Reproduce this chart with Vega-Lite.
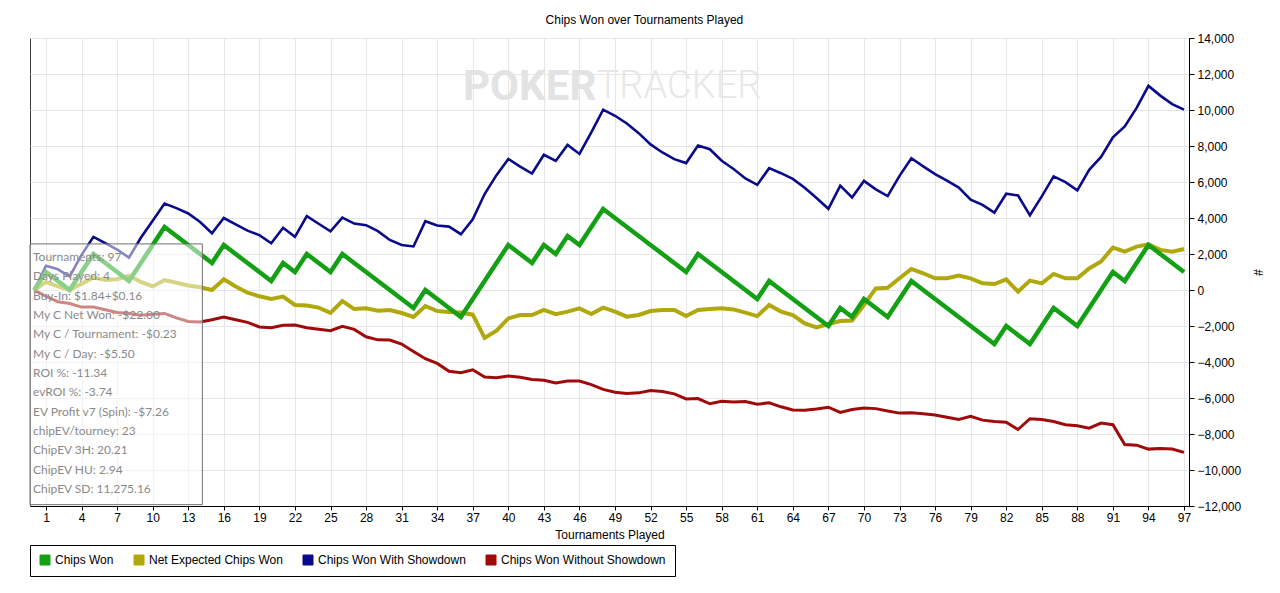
{
"$schema": "https://vega.github.io/schema/vega-lite/v6.json",
"width": 1159, "height": 468,
"autosize": {"type": "none"},
"padding": {"left": 30, "top": 38, "right": 91, "bottom": 87},
"background": "white",
"config": {
  "font": "Liberation Sans",
  "view": {"stroke": "#3c3c3c", "strokeWidth": 1},
  "axis": {"labelFontSize": 12, "labelColor": "#000", "labelFont": "Liberation Sans", "tickColor": "#000", "domainColor": "#000", "gridColor": "#e6e6e6", "titleFontSize": 12, "titleFontWeight": "normal", "titleColor": "#000", "titleFont": "Liberation Sans", "labelOverlap": false, "labelFlush": false},
  "axisY": {"tickCount": 14}
},
"title": {"text": "Chips Won over Tournaments Played", "fontSize": 12, "fontWeight": "normal", "font": "Liberation Sans", "color": "#000", "anchor": "middle", "frame": "bounds", "offset": 5},
"datasets": {
"chips": [
{"t":0,"cw":0,"nec":0,"sd":0,"nsd":0},
{"t":1,"cw":1000,"nec":450,"sd":1350,"nsd":-350},
{"t":2,"cw":500,"nec":200,"sd":1150,"nsd":-650},
{"t":3,"cw":0,"nec":0,"sd":750,"nsd":-750},
{"t":4,"cw":1000,"nec":350,"sd":1950,"nsd":-950},
{"t":5,"cw":2000,"nec":700,"sd":2950,"nsd":-950},
{"t":6,"cw":1500,"nec":550,"sd":2600,"nsd":-1100},
{"t":7,"cw":1000,"nec":600,"sd":2250,"nsd":-1250},
{"t":8,"cw":500,"nec":800,"sd":1800,"nsd":-1300},
{"t":9,"cw":1500,"nec":450,"sd":2900,"nsd":-1400},
{"t":10,"cw":2500,"nec":200,"sd":3850,"nsd":-1350},
{"t":11,"cw":3500,"nec":550,"sd":4800,"nsd":-1300},
{"t":12,"cw":3000,"nec":400,"sd":4550,"nsd":-1550},
{"t":13,"cw":2500,"nec":250,"sd":4250,"nsd":-1750},
{"t":14,"cw":2000,"nec":150,"sd":3780,"nsd":-1780},
{"t":15,"cw":1500,"nec":0,"sd":3150,"nsd":-1650},
{"t":16,"cw":2500,"nec":600,"sd":4000,"nsd":-1500},
{"t":17,"cw":2000,"nec":200,"sd":3650,"nsd":-1650},
{"t":18,"cw":1500,"nec":-150,"sd":3300,"nsd":-1800},
{"t":19,"cw":1000,"nec":-350,"sd":3050,"nsd":-2050},
{"t":20,"cw":500,"nec":-500,"sd":2600,"nsd":-2100},
{"t":21,"cw":1500,"nec":-370,"sd":3460,"nsd":-1960},
{"t":22,"cw":1000,"nec":-830,"sd":2950,"nsd":-1950},
{"t":23,"cw":2000,"nec":-860,"sd":4100,"nsd":-2100},
{"t":24,"cw":1500,"nec":-980,"sd":3680,"nsd":-2180},
{"t":25,"cw":1000,"nec":-1270,"sd":3260,"nsd":-2260},
{"t":26,"cw":2000,"nec":-610,"sd":4020,"nsd":-2020},
{"t":27,"cw":1500,"nec":-1060,"sd":3690,"nsd":-2190},
{"t":28,"cw":1000,"nec":-1020,"sd":3600,"nsd":-2600},
{"t":29,"cw":500,"nec":-1150,"sd":3270,"nsd":-2770},
{"t":30,"cw":0,"nec":-1110,"sd":2780,"nsd":-2780},
{"t":31,"cw":-500,"nec":-1280,"sd":2500,"nsd":-3000},
{"t":32,"cw":-1000,"nec":-1500,"sd":2420,"nsd":-3420},
{"t":33,"cw":0,"nec":-890,"sd":3820,"nsd":-3820},
{"t":34,"cw":-500,"nec":-1170,"sd":3580,"nsd":-4080},
{"t":35,"cw":-1000,"nec":-1220,"sd":3520,"nsd":-4520},
{"t":36,"cw":-1500,"nec":-1250,"sd":3100,"nsd":-4600},
{"t":37,"cw":-500,"nec":-1370,"sd":3930,"nsd":-4430},
{"t":38,"cw":500,"nec":-2660,"sd":5330,"nsd":-4830},
{"t":39,"cw":1500,"nec":-2260,"sd":6380,"nsd":-4880},
{"t":40,"cw":2500,"nec":-1580,"sd":7280,"nsd":-4780},
{"t":41,"cw":2000,"nec":-1390,"sd":6850,"nsd":-4850},
{"t":42,"cw":1500,"nec":-1390,"sd":6470,"nsd":-4970},
{"t":43,"cw":2500,"nec":-1110,"sd":7510,"nsd":-5010},
{"t":44,"cw":2000,"nec":-1340,"sd":7170,"nsd":-5170},
{"t":45,"cw":3000,"nec":-1200,"sd":8060,"nsd":-5060},
{"t":46,"cw":2500,"nec":-1020,"sd":7560,"nsd":-5060},
{"t":47,"cw":3500,"nec":-1340,"sd":8760,"nsd":-5260},
{"t":48,"cw":4500,"nec":-980,"sd":10020,"nsd":-5520},
{"t":49,"cw":4000,"nec":-1200,"sd":9680,"nsd":-5680},
{"t":50,"cw":3500,"nec":-1480,"sd":9250,"nsd":-5750},
{"t":51,"cw":3000,"nec":-1390,"sd":8715,"nsd":-5715},
{"t":52,"cw":2500,"nec":-1170,"sd":8090,"nsd":-5590},
{"t":53,"cw":2000,"nec":-1110,"sd":7640,"nsd":-5640},
{"t":54,"cw":1500,"nec":-1110,"sd":7270,"nsd":-5770},
{"t":55,"cw":1000,"nec":-1450,"sd":7050,"nsd":-6050},
{"t":56,"cw":2000,"nec":-1110,"sd":8030,"nsd":-6030},
{"t":57,"cw":1500,"nec":-1060,"sd":7820,"nsd":-6320},
{"t":58,"cw":1000,"nec":-1020,"sd":7180,"nsd":-6180},
{"t":59,"cw":500,"nec":-1080,"sd":6720,"nsd":-6220},
{"t":60,"cw":0,"nec":-1260,"sd":6200,"nsd":-6200},
{"t":61,"cw":-500,"nec":-1450,"sd":5840,"nsd":-6340},
{"t":62,"cw":500,"nec":-830,"sd":6770,"nsd":-6270},
{"t":63,"cw":0,"nec":-1200,"sd":6490,"nsd":-6490},
{"t":64,"cw":-500,"nec":-1390,"sd":6170,"nsd":-6670},
{"t":65,"cw":-1000,"nec":-1855,"sd":5680,"nsd":-6680},
{"t":66,"cw":-1500,"nec":-2080,"sd":5110,"nsd":-6610},
{"t":67,"cw":-2000,"nec":-1890,"sd":4510,"nsd":-6510},
{"t":68,"cw":-1000,"nec":-1725,"sd":5800,"nsd":-6800},
{"t":69,"cw":-1500,"nec":-1700,"sd":5140,"nsd":-6640},
{"t":70,"cw":-500,"nec":-830,"sd":6060,"nsd":-6560},
{"t":71,"cw":-1000,"nec":90,"sd":5590,"nsd":-6590},
{"t":72,"cw":-1500,"nec":120,"sd":5220,"nsd":-6720},
{"t":73,"cw":-500,"nec":650,"sd":6340,"nsd":-6840},
{"t":74,"cw":500,"nec":1170,"sd":7320,"nsd":-6820},
{"t":75,"cw":0,"nec":930,"sd":6870,"nsd":-6870},
{"t":76,"cw":-500,"nec":650,"sd":6440,"nsd":-6940},
{"t":77,"cw":-1000,"nec":650,"sd":6070,"nsd":-7070},
{"t":78,"cw":-1500,"nec":800,"sd":5690,"nsd":-7190},
{"t":79,"cw":-2000,"nec":650,"sd":5020,"nsd":-7020},
{"t":80,"cw":-2500,"nec":370,"sd":4730,"nsd":-7230},
{"t":81,"cw":-3000,"nec":330,"sd":4300,"nsd":-7300},
{"t":82,"cw":-2000,"nec":590,"sd":5350,"nsd":-7350},
{"t":83,"cw":-2500,"nec":-90,"sd":5250,"nsd":-7750},
{"t":84,"cw":-3000,"nec":520,"sd":4150,"nsd":-7150},
{"t":85,"cw":-2000,"nec":370,"sd":5200,"nsd":-7200},
{"t":86,"cw":-1000,"nec":890,"sd":6310,"nsd":-7310},
{"t":87,"cw":-1500,"nec":650,"sd":5990,"nsd":-7490},
{"t":88,"cw":-2000,"nec":650,"sd":5540,"nsd":-7540},
{"t":89,"cw":-1000,"nec":1200,"sd":6680,"nsd":-7680},
{"t":90,"cw":0,"nec":1580,"sd":7390,"nsd":-7390},
{"t":91,"cw":1000,"nec":2360,"sd":8480,"nsd":-7480},
{"t":92,"cw":500,"nec":2130,"sd":9090,"nsd":-8590},
{"t":93,"cw":1500,"nec":2410,"sd":10120,"nsd":-8620},
{"t":94,"cw":2500,"nec":2540,"sd":11340,"nsd":-8840},
{"t":95,"cw":2000,"nec":2230,"sd":10800,"nsd":-8800},
{"t":96,"cw":1500,"nec":2130,"sd":10330,"nsd":-8830},
{"t":97,"cw":1000,"nec":2280,"sd":10020,"nsd":-9020}
],
"stats": [
{"idx":0,"label":"Tournaments: 97"},
{"idx":1,"label":"Days Played: 4"},
{"idx":2,"label":"Buy-In: $1.84+$0.16"},
{"idx":3,"label":"My C Net Won: -$22.00"},
{"idx":4,"label":"My C / Tournament: -$0.23"},
{"idx":5,"label":"My C / Day: -$5.50"},
{"idx":6,"label":"ROI %: -11.34"},
{"idx":7,"label":"evROI %: -3.74"},
{"idx":8,"label":"EV Profit v7 (Spin): -$7.26"},
{"idx":9,"label":"chipEV/tourney: 23"},
{"idx":10,"label":"ChipEV 3H: 20.21"},
{"idx":11,"label":"ChipEV HU: 2.94"},
{"idx":12,"label":"ChipEV SD: 11,275.16"}
]
},
"layer": [
{
  "data": {"name": "chips"},
  "encoding": {
    "x": {"field": "t", "type": "quantitative", "scale": {"domain": [-0.35, 97.42], "nice": false, "zero": false},
      "axis": {"values": [1,4,7,10,13,16,19,22,25,28,31,34,37,40,43,46,49,52,55,58,61,64,67,70,73,76,79,82,85,88,91,94,97], "title": "Tournaments Played", "tickSize": 4, "labelPadding": 2, "titlePadding": 6, "grid": true}}
  },
  "layer": [
    {"data": {"values": [{"word": "POKER", "wx": 41.8, "wy": 11300}]},
     "mark": {"type": "text", "font": "Roboto", "fontSize": 42, "fontWeight": "bold", "color": "#e3e3e3", "align": "center", "baseline": "middle"},
     "encoding": {"x": {"field": "wx", "type": "quantitative", "title": "Tournaments Played"},
       "y": {"field": "wy", "type": "quantitative", "title": "#", "scale": {"domain": [-12000, 14000], "nice": false, "zero": false},
         "axis": {"orient": "right", "values": [-12000,-10000,-8000,-6000,-4000,-2000,0,2000,4000,6000,8000,10000,12000,14000], "format": ",d", "tickSize": 5, "labelPadding": 3, "titlePadding": 10, "grid": true}},
       "text": {"field": "word"}}},
    {"data": {"values": [{"word": "TRACKER", "wx": 54.4, "wy": 11300}]},
     "mark": {"type": "text", "font": "Roboto", "fontSize": 38, "fontWeight": 300, "color": "#e8e8e8", "align": "center", "baseline": "middle"},
     "encoding": {"x": {"field": "wx", "type": "quantitative", "title": "Tournaments Played"},
       "y": {"field": "wy", "type": "quantitative", "title": "#"},
       "text": {"field": "word"}}},
    {"data": {"values": [{"z": 0}]}, "mark": {"type": "rule", "color": "#000", "strokeWidth": 1},
     "encoding": {"y": {"field": "z", "type": "quantitative", "title": "#"}}},
    {"mark": {"type": "line", "strokeWidth": 4},
     "encoding": {
       "y": {"field": "nec", "type": "quantitative", "title": "#"},
       "color": {"datum": "Net Expected Chips Won", "type": "nominal",
         "scale": {"domain": ["Chips Won", "Net Expected Chips Won", "Chips Won With Showdown", "Chips Won Without Showdown"], "range": ["#14a014", "#b0a80c", "#0a0a8c", "#a00a0a"]},
         "legend": {"orient": "none", "legendX": 0, "legendY": 507, "direction": "horizontal", "title": null, "symbolType": "square", "symbolSize": 100, "labelFontSize": 12, "labelFont": "Liberation Sans", "labelColor": "#000", "labelOffset": 4, "labelLimit": 0, "columnPadding": 18, "padding": 9, "strokeColor": "#000", "fillColor": "#fff", "symbolStrokeColor": "#000", "symbolStrokeWidth": 1,
           "encode": {"symbols": {"update": {"fill": {"scale": "color", "field": "value"}}}}}}
     }},
    {"mark": {"type": "line", "strokeWidth": 3},
     "encoding": {"y": {"field": "nsd", "type": "quantitative", "title": "#"}, "color": {"datum": "Chips Won Without Showdown", "type": "nominal"}}},
    {"mark": {"type": "line", "strokeWidth": 2.6},
     "encoding": {"y": {"field": "sd", "type": "quantitative", "title": "#"}, "color": {"datum": "Chips Won With Showdown", "type": "nominal"}}},
    {"mark": {"type": "line", "strokeWidth": 4.5},
     "encoding": {"y": {"field": "cw", "type": "quantitative", "title": "#"}, "color": {"datum": "Chips Won", "type": "nominal"}}},
    {"data": {"values": [{"x0": -0.35, "x1": 14.19, "y0": 2560, "y1": -11925}]}, "mark": {"type": "rect", "fill": "#ffffff", "fillOpacity": 0.5, "stroke": "#707070", "strokeWidth": 1},
     "encoding": {"x": {"field": "x0", "type": "quantitative", "title": "Tournaments Played"}, "x2": {"field": "x1"}, "y": {"field": "y0", "type": "quantitative", "title": "#"}, "y2": {"field": "y1"}}}
  ]
},
{
  "data": {"name": "stats"},
  "mark": {"type": "text", "align": "left", "baseline": "middle", "font": "Lato", "fontSize": 12, "color": "#8a8a8a", "dx": 3},
  "encoding": {
    "x": {"value": 0},
    "y": {"field": "idx", "type": "quantitative", "scale": {"domain": [-11.33, 12.88], "reverse": true, "nice": false, "zero": false}, "axis": null},
    "text": {"field": "label"}
  }
}
],
"resolve": {"scale": {"y": "independent"}}
}
